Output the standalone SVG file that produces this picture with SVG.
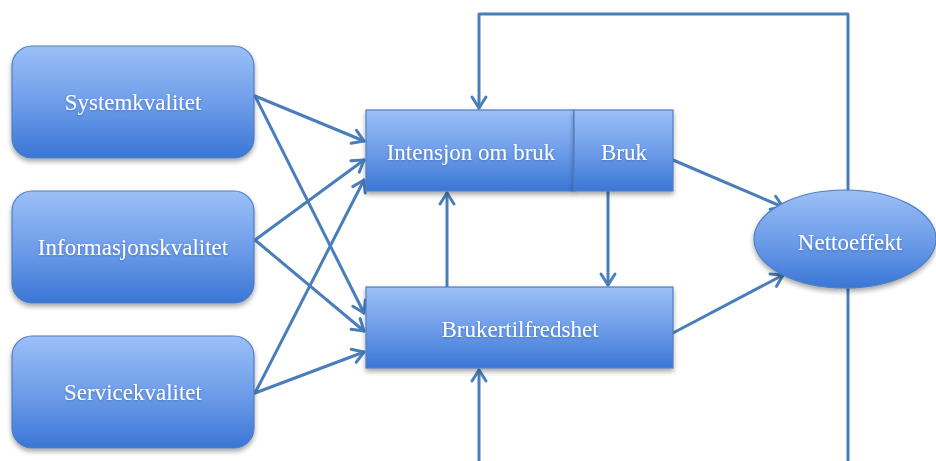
<svg xmlns="http://www.w3.org/2000/svg" width="936" height="461" viewBox="0 0 936 461">
  <defs>
    <linearGradient id="g" x1="0" y1="0" x2="0" y2="1">
      <stop offset="0" stop-color="#9cbff7"/>
      <stop offset="0.55" stop-color="#6a9ae8"/>
      <stop offset="1" stop-color="#3a76d6"/>
    </linearGradient>
    <filter id="sh" x="-10%" y="-10%" width="120%" height="130%">
      <feDropShadow dx="0" dy="3" stdDeviation="2.5" flood-color="#000" flood-opacity="0.35"/>
    </filter>
    <filter id="tsh" x="-10%" y="-30%" width="120%" height="160%">
      <feDropShadow dx="0" dy="1" stdDeviation="0.8" flood-color="#1f4f9a" flood-opacity="0.5"/>
    </filter>
    <marker id="arr" markerUnits="userSpaceOnUse" markerWidth="20" markerHeight="20" viewBox="-14 -10 18 20" refX="0" refY="0" orient="auto">
      <path d="M-11,-7 L0,0 L-11,7" fill="none" stroke="#4a7ebb" stroke-width="3" stroke-linecap="round" stroke-linejoin="round"/>
    </marker>
    <style>
      .box { fill: url(#g); stroke: #4f7fc0; stroke-width: 1.2; filter: url(#sh); }
      .lbl { font-family: "Liberation Serif", "DejaVu Serif", serif; font-size: 23px; fill: #ffffff; text-anchor: middle; dominant-baseline: central; filter: url(#tsh); }
      .c { fill: none; stroke: #4a7ebb; stroke-width: 3; stroke-linejoin: round; stroke-linecap: round; }
      .a { marker-end: url(#arr); }
    </style>
  </defs>

  <g id="connectors">
    <polyline class="c a" points="848,190 848,14 479,14 479,108"/>
    <polyline class="c a" points="848,288 848,470 479,470 479,370"/>
    <line class="c a" x1="255" y1="96" x2="364" y2="141"/>
    <line class="c a" x1="255" y1="96" x2="364" y2="313"/>
    <line class="c a" x1="255" y1="240" x2="364" y2="160"/>
    <line class="c a" x1="255" y1="240" x2="364" y2="331"/>
    <line class="c a" x1="255" y1="393" x2="364" y2="180"/>
    <line class="c a" x1="255" y1="393" x2="364" y2="352"/>
    <line class="c a" x1="447" y1="287" x2="447" y2="193"/>
    <line class="c a" x1="608" y1="191" x2="608" y2="285"/>
    <line class="c a" x1="673" y1="160" x2="783" y2="207"/>
    <line class="c a" x1="673" y1="333" x2="783" y2="275"/>
  </g>

  <g id="systemkvalitet">
    <rect class="box" x="12" y="46" width="242" height="112" rx="20" ry="20"/>
    <text class="lbl" x="133" y="102">Systemkvalitet</text>
  </g>
  <g id="informasjonskvalitet">
    <rect class="box" x="12" y="191" width="242" height="112" rx="20" ry="20"/>
    <text class="lbl" x="133" y="247">Informasjonskvalitet</text>
  </g>
  <g id="servicekvalitet">
    <rect class="box" x="12" y="336" width="242" height="112" rx="20" ry="20"/>
    <text class="lbl" x="133" y="392">Servicekvalitet</text>
  </g>
  <g id="intensjon-om-bruk">
    <rect class="box" x="366" y="110" width="208" height="81"/>
    <text class="lbl" x="471" y="152">Intensjon om bruk</text>
  </g>
  <g id="bruk">
    <rect class="box" x="574" y="110" width="99" height="81"/>
    <text class="lbl" x="624" y="152">Bruk</text>
  </g>
  <g id="brukertilfredshet">
    <rect class="box" x="366" y="287" width="307" height="81"/>
    <text class="lbl" x="520" y="329">Brukertilfredshet</text>
  </g>
  <g id="nettoeffekt">
    <ellipse class="box" cx="845" cy="239" rx="91" ry="49"/>
    <text class="lbl" x="850" y="242">Nettoeffekt</text>
  </g>
</svg>
